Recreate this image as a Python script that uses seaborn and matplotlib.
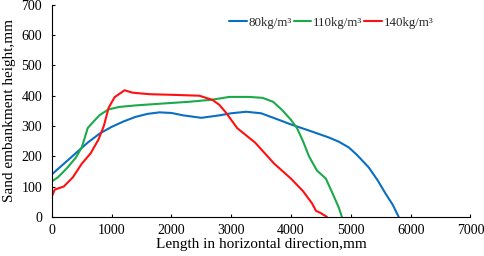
import numpy as np
import pandas as pd
import matplotlib
matplotlib.use("Agg")
import matplotlib.pyplot as plt
import seaborn as sns

# Data (x in mm, height in mm)
x_80 = [0, 200, 400, 600, 800, 1000, 1200, 1400, 1600, 1800, 2000, 2200, 2500, 2800,
        3000, 3250, 3500, 3800, 4000, 4300, 4633, 4800, 4967, 5100, 5300, 5450, 5583, 5700, 5767, 5800]
h_80 = [140, 175, 210, 245, 275, 297, 315, 330, 340, 345, 343, 335, 327, 335,
        342, 347, 342, 320, 305, 285, 262, 248, 229, 205, 163, 120, 76, 40, 13, 0]

x_110 = [0, 100, 250, 400, 500, 550, 600, 700, 800, 950, 1133, 1400, 1917, 2300, 2689,
         2967, 3300, 3522, 3700, 3850, 4000, 4100, 4200, 4300, 4433, 4583, 4700, 4800, 4850]
h_110 = [117, 130, 160, 195, 229, 260, 293, 315, 336, 355, 363, 368, 375, 380, 387,
         396, 396, 393, 380, 353, 320, 293, 250, 200, 153, 126, 75, 30, 0]

x_140 = [0, 50, 200, 350, 500, 650, 780, 830, 870, 950, 1050, 1217, 1350, 1633, 2000,
         2467, 2689, 2800, 2917, 3100, 3400, 3717, 4000, 4200, 4350, 4417, 4500, 4600]
h_140 = [67, 90, 100, 130, 175, 210, 255, 280, 300, 360, 395, 418, 410, 405, 403,
         400, 386, 370, 343, 293, 245, 176, 126, 85, 45, 20, 12, 0]

labels = ["80kg/m³", "110kg/m³", "140kg/m³"]
colors = ["#0a6fc2", "#1aaa4a", "#ff1010"]

frames = []
for lab, xs, hs in zip(labels, [x_80, x_110, x_140], [h_80, h_110, h_140]):
    frames.append(pd.DataFrame({"x": xs, "h": hs, "series": lab}))
df = pd.concat(frames, ignore_index=True)

sns.set_theme(style="white")
plt.rcParams["font.family"] = ["Liberation Serif", "DejaVu Serif"]

fig = plt.figure(figsize=(4.84, 2.56), dpi=100)
ax = fig.add_axes([0.107, 0.153, 0.865, 0.828])

sns.lineplot(data=df, x="x", y="h", hue="series", palette=colors, sort=False,
             estimator=None, linewidth=1.5, ax=ax)

ax.set_xlim(0, 7000)
ax.set_ylim(0, 700)
ax.set_xticks(np.arange(0, 7001, 1000))
ax.set_yticks(np.arange(0, 701, 100))
ax.tick_params(axis="both", direction="in", length=2.5, width=0.8, labelsize=10,
               colors="black", bottom=True, left=True)
ax.tick_params(axis="y", pad=7)
ax.tick_params(axis="x", pad=5)
for s in ["top", "right"]:
    ax.spines[s].set_visible(False)
for s in ["left", "bottom"]:
    ax.spines[s].set_color("black")
    ax.spines[s].set_linewidth(0.8)

ax.set_xlabel("Length in horizontal direction,mm", fontsize=11, color="black", labelpad=1)
ax.set_ylabel("Sand embankment height,mm", fontsize=11, color="black", labelpad=4)

ax.legend(title=None, frameon=False, ncol=3, fontsize=9.3, loc="center left",
          bbox_to_anchor=(0.424, 0.915), handlelength=1.35, handletextpad=0.15,
          columnspacing=0.15, borderaxespad=0, borderpad=0)

fig.savefig("out.png", dpi=100)
